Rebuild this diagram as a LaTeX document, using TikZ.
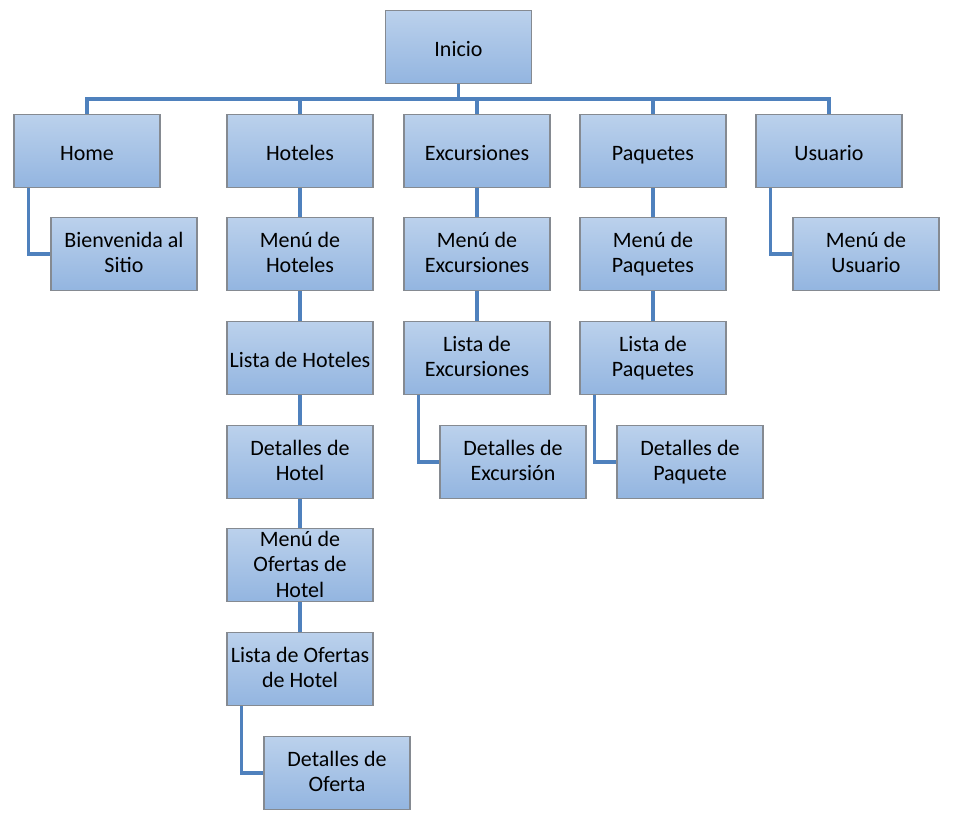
\documentclass[tikz,border=0pt]{standalone}
\usepackage{fontspec}
\setmainfont{Carlito}
\definecolor{boxtop}{HTML}{BBD1EC}
\definecolor{boxbot}{HTML}{93B5E0}
\definecolor{boxline}{HTML}{858A91}
\definecolor{linkblue}{HTML}{4F81BD}
\newcommand\pagestrut{\rule[-2.6pt]{0pt}{18.8pt}}
\begin{document}
\begin{tikzpicture}[x=0.75pt,y=-0.75pt,
	pagebox/.style={draw=boxline,line width=1.2pt,top color=boxtop,bottom color=boxbot,
		minimum width=109.5pt,minimum height=54.75pt,inner sep=1pt,align=center,
		font=\fontsize{16.5}{18.8}\selectfont},
	page/.style={pagebox,execute at begin node=\pagestrut,execute at end node=\pagestrut},
	tallpage/.style={pagebox,inner ysep=0pt,
		execute at begin node=\rule{0pt}{15pt},execute at end node=\rule[-1pt]{0pt}{1pt}},
	link/.style={draw=linkblue,line width=2.5pt}]
	\useasboundingbox (0,0) rectangle (958,824);
	\coordinate (bar) at (458,99);
	% top level
	\node[page] (inicio) at (458.5,47) {Inicio};
	\node[page] (home) at (87,151) {Home};
	\node[page] (hoteles) at (300,151) {Hoteles};
	\node[page] (excur) at (477,151) {Excursiones};
	\node[page] (paq) at (653,151) {Paquetes};
	\node[page] (usuario) at (829,151) {Usuario};
	% second level and below
	\node[page] (bienv) at (124,254) {Bienvenida al\\Sitio};
	\node[page] (menuhot) at (300,254) {Menú de\\Hoteles};
	\node[page] (listahot) at (300,358) {Lista de Hoteles};
	\node[page] (dethot) at (300,462) {Detalles de\\Hotel};
	\node[tallpage] (menuof) at (300,565) {Menú de\\Ofertas de\\Hotel};
	\node[page] (listaof) at (300,669) {Lista de Ofertas\\de Hotel};
	\node[page] (detof) at (337,773) {Detalles de\\Oferta};
	\node[page] (menuexc) at (477,254) {Menú de\\Excursiones};
	\node[page] (listaexc) at (477,358) {Lista de\\Excursiones};
	\node[page] (detexc) at (513,462) {Detalles de\\Excursión};
	\node[page] (menupaq) at (653,254) {Menú de\\Paquetes};
	\node[page] (listapaq) at (653,358) {Lista de\\Paquetes};
	\node[page] (detpaq) at (690,462) {Detalles de\\Paquete};
	\node[page] (menuusu) at (866,254) {Menú de\\Usuario};
	% connectors
	\draw[link] (inicio.south) -- (inicio.south |- bar);
	\draw[link] (home.north) -- (home.north |- bar) -- (usuario.north |- bar) -- (usuario.north);
	\draw[link] (hoteles.north) -- (hoteles.north |- bar);
	\draw[link] (excur.north) -- (excur.north |- bar);
	\draw[link] (paq.north) -- (paq.north |- bar);
	\draw[link] ([xshift=11.25pt]home.south west) |- (bienv.west);
	\draw[link] (hoteles) -- (menuhot) -- (listahot) -- (dethot) -- (menuof) -- (listaof);
	\draw[link] ([xshift=11.25pt]listaof.south west) |- (detof.west);
	\draw[link] (excur) -- (menuexc) -- (listaexc);
	\draw[link] ([xshift=11.25pt]listaexc.south west) |- (detexc.west);
	\draw[link] (paq) -- (menupaq) -- (listapaq);
	\draw[link] ([xshift=11.25pt]listapaq.south west) |- (detpaq.west);
	\draw[link] ([xshift=11.25pt]usuario.south west) |- (menuusu.west);
\end{tikzpicture}
\end{document}
